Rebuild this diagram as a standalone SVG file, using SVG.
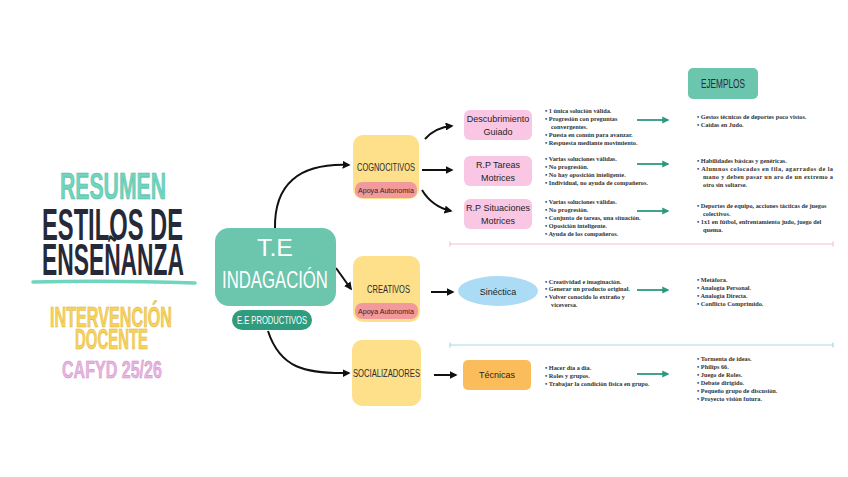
<svg xmlns="http://www.w3.org/2000/svg" width="848" height="477" viewBox="0 0 848 477">
<style>
.title{font-family:"Liberation Sans",Arial,sans-serif;font-weight:bold}
.te{font-family:"Liberation Sans",Arial,sans-serif;font-weight:normal;fill:#ffffff;font-size:24px}
.hand{font-family:"Liberation Sans",Arial,sans-serif;fill:#2b2b33}
.lbl{font-family:"Liberation Sans",Arial,sans-serif;fill:#1e1e24;font-size:9px;text-anchor:middle}
.apo{font-family:"Liberation Sans",Arial,sans-serif;fill:#3a2020;font-size:7.5px}
.body{font-family:"Liberation Serif","Times New Roman",serif;font-size:6.3px;fill:#333;font-weight:bold}
.conn{fill:none;stroke:#111;stroke-width:2}
.green{fill:none;stroke:#2a9a7e;stroke-width:1.8}
</style>
<defs>
<marker id="ah" viewBox="0 0 10 10" refX="8" refY="5" markerWidth="4" markerHeight="4" orient="auto"><path d="M0,0 L10,5 L0,10 z" fill="#111"/></marker>
<marker id="gh" viewBox="0 0 10 10" refX="8" refY="5" markerWidth="4" markerHeight="4" orient="auto"><path d="M0,0 L10,5 L0,10 z" fill="#2a9a7e"/></marker>
</defs>
<rect width="848" height="477" fill="#ffffff"/>

<g id="title">
<text class="title" transform="translate(60,199) scale(0.573,1)" x="0" y="0" font-size="37" fill="#6fd5bd" stroke="#4fb59e" stroke-width="0.6" textLength="185" lengthAdjust="spacingAndGlyphs">RESUMEN</text>
<text class="title" transform="translate(42,240) scale(0.53,1)" x="0" y="0" font-size="45" fill="#262937" textLength="266" lengthAdjust="spacingAndGlyphs">ESTILOS DE</text>
<text class="title" transform="translate(42,275) scale(0.51,1)" x="0" y="0" font-size="45" fill="#262937" textLength="278.4" lengthAdjust="spacingAndGlyphs">ENSEÑANZA</text>
<path d="M33,282 Q110,280 195,283" fill="none" stroke="#6fd5bd" stroke-width="3.5" stroke-linecap="round"/>
<text class="title" transform="translate(50,327) scale(0.542,1)" x="0" y="0" font-size="29" fill="#f7d35c" stroke="#d8b23a" stroke-width="0.6" textLength="225" lengthAdjust="spacingAndGlyphs">INTERVENCIÓN</text>
<text class="title" transform="translate(75,349) scale(0.515,1)" x="0" y="0" font-size="29" fill="#f7d35c" stroke="#d8b23a" stroke-width="0.6" textLength="141.8" lengthAdjust="spacingAndGlyphs">DOCENTE</text>
<text class="title" transform="translate(62,378) scale(0.669,1)" x="0" y="0" font-size="24" fill="#e9b4e2" stroke="#c98fc2" stroke-width="0.5" textLength="149.4" lengthAdjust="spacingAndGlyphs">CAFYD 25/26</text>
</g>

<g id="connectors">
<path class="conn" d="M275,229 C274,185 298,163 349,165" marker-end="url(#ah)"/>
<path class="conn" d="M336,268 L351,289" marker-end="url(#ah)"/>
<path class="conn" d="M268,331 C280,368 305,374 349,373" marker-end="url(#ah)"/>
<path class="conn" d="M425,139 C432,131 440,127 452,126" marker-end="url(#ah)"/>
<path class="conn" d="M422,170 L452,170" marker-end="url(#ah)"/>
<path class="conn" d="M422,190 C428,200 438,208 451,211" marker-end="url(#ah)"/>
<path class="conn" d="M431,292 L453,292" marker-end="url(#ah)"/>
<path class="conn" d="M434,375 L456,375" marker-end="url(#ah)"/>
<path class="green" d="M637,120 L668,120" marker-end="url(#gh)"/>
<path class="green" d="M637,164 L668,164" marker-end="url(#gh)"/>
<path class="green" d="M637,211 L668,211" marker-end="url(#gh)"/>
<path class="green" d="M637,290 L668,290" marker-end="url(#gh)"/>
<path class="green" d="M637,374 L668,374" marker-end="url(#gh)"/>
</g>

<g id="dividers">
<path d="M450,244 L833,244 M450,241.5 L450,246.5 M833,241.5 L833,246.5" stroke="#f3c4da" stroke-width="1.2" fill="none"/>
<path d="M450,345 L833,345 M450,342.5 L450,347.5 M833,342.5 L833,347.5" stroke="#a9d6ea" stroke-width="1.2" fill="none"/>
</g>

<g id="te-indagacion">
<rect x="215" y="228" width="121" height="78" rx="14" fill="#6cc5ad"/>
<text class="te" x="257" y="256" textLength="36" lengthAdjust="spacingAndGlyphs">T.E</text>
<text class="te" transform="translate(222,288) scale(0.697,1)" x="0" y="0" textLength="152" lengthAdjust="spacingAndGlyphs">INDAGACIÓN</text>
</g>
<g id="ee-productivos">
<rect x="232" y="310" width="80" height="20" rx="10" fill="#2f9c80"/>
<text class="hand" x="237" y="324" font-size="10" style="fill:#ffffff" textLength="70" lengthAdjust="spacingAndGlyphs">E.E PRODUCTIVOS</text>
</g>

<g id="cognocitivos">
<rect x="353" y="135" width="66" height="64" rx="10" fill="#fde089"/>
<text class="hand" x="357" y="171" font-size="10.5" textLength="58" lengthAdjust="spacingAndGlyphs">COGNOCITIVOS</text>
<rect x="355" y="182" width="62" height="16" rx="7" fill="#f2999b"/>
<text class="apo" x="358" y="193" textLength="56" lengthAdjust="spacingAndGlyphs">Apoya Autonomía</text>
</g>
<g id="creativos">
<rect x="353" y="256" width="67" height="66" rx="10" fill="#fde089"/>
<text class="hand" x="367" y="293" font-size="10.5" textLength="43" lengthAdjust="spacingAndGlyphs">CREATIVOS</text>
<rect x="355" y="303" width="63" height="16" rx="7" fill="#f2999b"/>
<text class="apo" x="358" y="314" textLength="56" lengthAdjust="spacingAndGlyphs">Apoya Autonomía</text>
</g>
<g id="socializadores">
<rect x="352" y="340" width="69" height="66" rx="10" fill="#fde089"/>
<text class="hand" x="353" y="377" font-size="10.5" textLength="67" lengthAdjust="spacingAndGlyphs">SOCIALIZADORES</text>
</g>

<g id="descubrimiento">
<rect x="464" y="110" width="68" height="30" rx="6" fill="#f9c6e3"/>
<text class="lbl" x="498" y="122">Descubrimiento</text>
<text class="lbl" x="498" y="135">Guiado</text>
</g>
<g id="tareas">
<rect x="464" y="156" width="68" height="30" rx="6" fill="#f9c6e3"/>
<text class="lbl" x="498" y="168">R.P Tareas</text>
<text class="lbl" x="498" y="181">Motrices</text>
</g>
<g id="situaciones">
<rect x="464" y="199" width="68" height="30" rx="6" fill="#f9c6e3"/>
<text class="lbl" x="498" y="211">R.P Situaciones</text>
<text class="lbl" x="498" y="224">Motrices</text>
</g>
<g id="sinectica">
<ellipse cx="498" cy="291" rx="40" ry="15" fill="#acdcf5"/>
<text class="lbl" x="498" y="295" font-size="9.5">Sinéctica</text>
</g>
<g id="tecnicas">
<rect x="463" y="360" width="68" height="30" rx="5" fill="#fbbd5b"/>
<text class="lbl" x="497" y="378" font-size="9.5">Técnicas</text>
</g>

<g id="ejemplos">
<rect x="688" y="68" width="70" height="31" rx="5" fill="#6cc5ad"/>
<text class="hand" x="701" y="88" font-size="13" textLength="44" lengthAdjust="spacingAndGlyphs">EJEMPLOS</text>
</g>

<g id="lists" class="body">
<text class="body" x="545" y="113">•  1 única solución válida.</text>
<text class="body" x="545" y="121">•  Progresión con preguntas</text>
<text class="body" x="551" y="129">convergentes.</text>
<text class="body" x="545" y="137">•  Puesta en común para avanzar.</text>
<text class="body" x="545" y="145">•  Respuesta mediante movimiento.</text>

<text class="body" x="545" y="161">•  Varias soluciones válidas.</text>
<text class="body" x="545" y="169">•  No progresión.</text>
<text class="body" x="545" y="177">•  No hay oposición inteligente.</text>
<text class="body" x="545" y="185">•  Individual, no ayuda de compañeros.</text>

<text class="body" x="545" y="204">•  Varias soluciones válidas.</text>
<text class="body" x="545" y="212">•  No progresión.</text>
<text class="body" x="545" y="220">•  Conjunto de tareas, una situación.</text>
<text class="body" x="545" y="228">•  Oposición inteligente.</text>
<text class="body" x="545" y="236">•  Ayuda de los compañeros.</text>

<text class="body" x="545" y="284">•  Creatividad e imaginación.</text>
<text class="body" x="545" y="291">•  Generar un producto original.</text>
<text class="body" x="545" y="299">•  Volver conocido lo extraño y</text>
<text class="body" x="551" y="307">viceversa.</text>

<text class="body" x="545" y="370">•  Hacer día a día.</text>
<text class="body" x="545" y="378">•  Roles y grupos.</text>
<text class="body" x="545" y="386">•  Trabajar la condición física en grupo.</text>

<text class="body" x="697" y="119">•  Gestos técnicos de deportes poco vistos.</text>
<text class="body" x="697" y="127">•  Caídas en Judo.</text>

<text class="body" x="697" y="163">•  Habilidades básicas y genéricas.</text>
<text class="body" x="697" y="171" textLength="136" lengthAdjust="spacing">•  Alumnos colocados en fila, agarrados de la</text>
<text class="body" x="703" y="179" textLength="130" lengthAdjust="spacing">mano y deben pasar un aro de un extremo a</text>
<text class="body" x="703" y="187">otro sin soltarse.</text>

<text class="body" x="697" y="208">•  Deportes de equipo, acciones tácticas de juegos</text>
<text class="body" x="703" y="216">colectivos.</text>
<text class="body" x="697" y="224">•  1x1 en fútbol, enfrentamiento judo, juego del</text>
<text class="body" x="703" y="232">quema.</text>

<text class="body" x="697" y="282">•  Metáfora.</text>
<text class="body" x="697" y="290">•  Analogía Personal.</text>
<text class="body" x="697" y="298">•  Analogía Directa.</text>
<text class="body" x="697" y="306">•  Conflicto Comprimido.</text>

<text class="body" x="697" y="361">•  Tormenta de ideas.</text>
<text class="body" x="697" y="369">•  Philips 66.</text>
<text class="body" x="697" y="377">•  Juego de Roles.</text>
<text class="body" x="697" y="385">•  Debate dirigido.</text>
<text class="body" x="697" y="393">•  Pequeño grupo de discusión.</text>
<text class="body" x="697" y="401">•  Proyecto visión futura.</text>
</g>
</svg>
